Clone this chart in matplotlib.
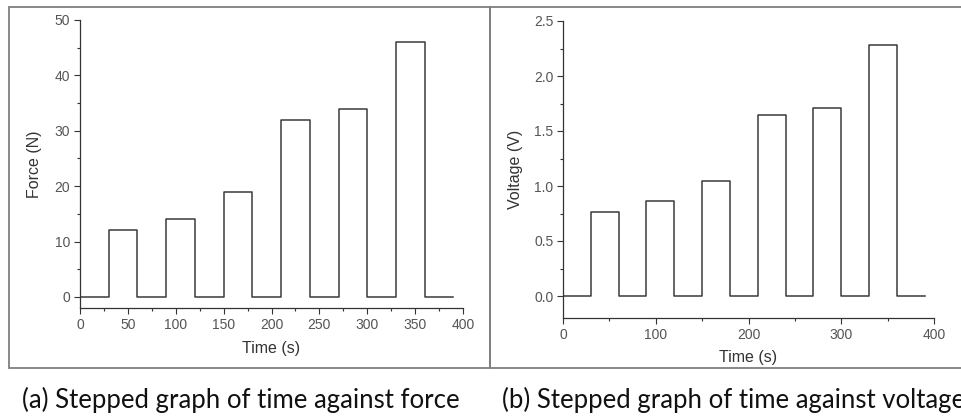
import matplotlib
matplotlib.use("Agg")
import matplotlib.pyplot as plt
from matplotlib.patches import Rectangle
from matplotlib.ticker import MultipleLocator

# ----- DATA -----
time_s = [0, 30, 60, 90, 120, 150, 180, 210, 240, 270, 300, 330, 360, 390]
force_n = [0, 12, 0, 14, 0, 19, 0, 32, 0, 34, 0, 46, 0, 0]
voltage_v = [0, 0.76, 0, 0.86, 0, 1.05, 0, 1.65, 0, 1.71, 0, 2.28, 0, 0]

caption_a = "(a) Stepped graph of time against force"
caption_b = "(b) Stepped graph of time against voltage"

W, H = 961, 418
plt.rcParams["font.family"] = ["Liberation Sans", "DejaVu Sans"]

fig = plt.figure(figsize=(W / 100, H / 100), dpi=100)


def fx(px):
    return px / W


def fy(py):
    return 1 - py / H


def style_axes(ax, xmajor, xminor, ymajor, yminor, yfmt=None):
    for side in ("top", "right"):
        ax.spines[side].set_visible(False)
    for side in ("left", "bottom"):
        ax.spines[side].set_color("#333333")
        ax.spines[side].set_linewidth(0.9)
    ax.xaxis.set_major_locator(MultipleLocator(xmajor))
    ax.xaxis.set_minor_locator(MultipleLocator(xminor))
    ax.yaxis.set_major_locator(MultipleLocator(ymajor))
    ax.yaxis.set_minor_locator(MultipleLocator(yminor))
    ax.tick_params(which="major", direction="out", length=4, width=0.8,
                   color="#333333", labelsize=10, labelcolor="#555555", pad=3)
    ax.tick_params(which="minor", direction="out", length=2, width=0.8, color="#333333")
    if yfmt:
        ax.yaxis.set_major_formatter(plt.FormatStrFormatter(yfmt))


# ----- LEFT: force -----
ax1 = fig.add_axes([fx(80), fy(308), fx(463 - 80), (308 - 20) / H])
ax1.plot(time_s, force_n, drawstyle="steps-post", color="#3a3a3a", linewidth=1.1)
ax1.set_xlim(0, 400)
ax1.set_ylim(-2, 50)
style_axes(ax1, 50, 25, 10, 5)
ax1.set_xlabel("Time (s)", fontsize=11.5, color="#333333", labelpad=7)
ax1.set_ylabel("Force (N)", fontsize=11.5, color="#333333", labelpad=9)

# ----- RIGHT: voltage -----
ax2 = fig.add_axes([fx(563), fy(318), fx(934 - 563), (318 - 21) / H])
ax2.plot(time_s, voltage_v, drawstyle="steps-post", color="#3a3a3a", linewidth=1.1)
ax2.set_xlim(0, 400)
ax2.set_ylim(-0.2, 2.5)
style_axes(ax2, 100, 50, 0.5, 0.25, "%.1f")
ax2.set_xlabel("Time (s)", fontsize=11.5, color="#333333", labelpad=6)
ax2.set_ylabel("Voltage (V)", fontsize=11.5, color="#333333", labelpad=8)

# ----- frames around each panel -----
frame_kw = dict(fill=False, edgecolor="#7f7f7f", linewidth=1.3, transform=fig.transFigure)
fig.add_artist(Rectangle((fx(9), fy(368)), fx(490 - 9), (368 - 7) / H, **frame_kw))
fig.add_artist(Rectangle((fx(490), fy(368)), fx(990 - 490), (368 - 7) / H, **frame_kw))

# ----- captions (the right one runs off the edge, as in the source image) -----
fig.text(fx(241), fy(400), caption_a, ha="center", va="center",
         fontsize=18.5, family=["Lato", "DejaVu Sans"], color="#111111")
fig.text(fx(502), fy(400), caption_b, ha="left", va="center",
         fontsize=18.5, family=["Lato", "DejaVu Sans"], color="#111111")

fig.savefig("out.png", dpi=100)
